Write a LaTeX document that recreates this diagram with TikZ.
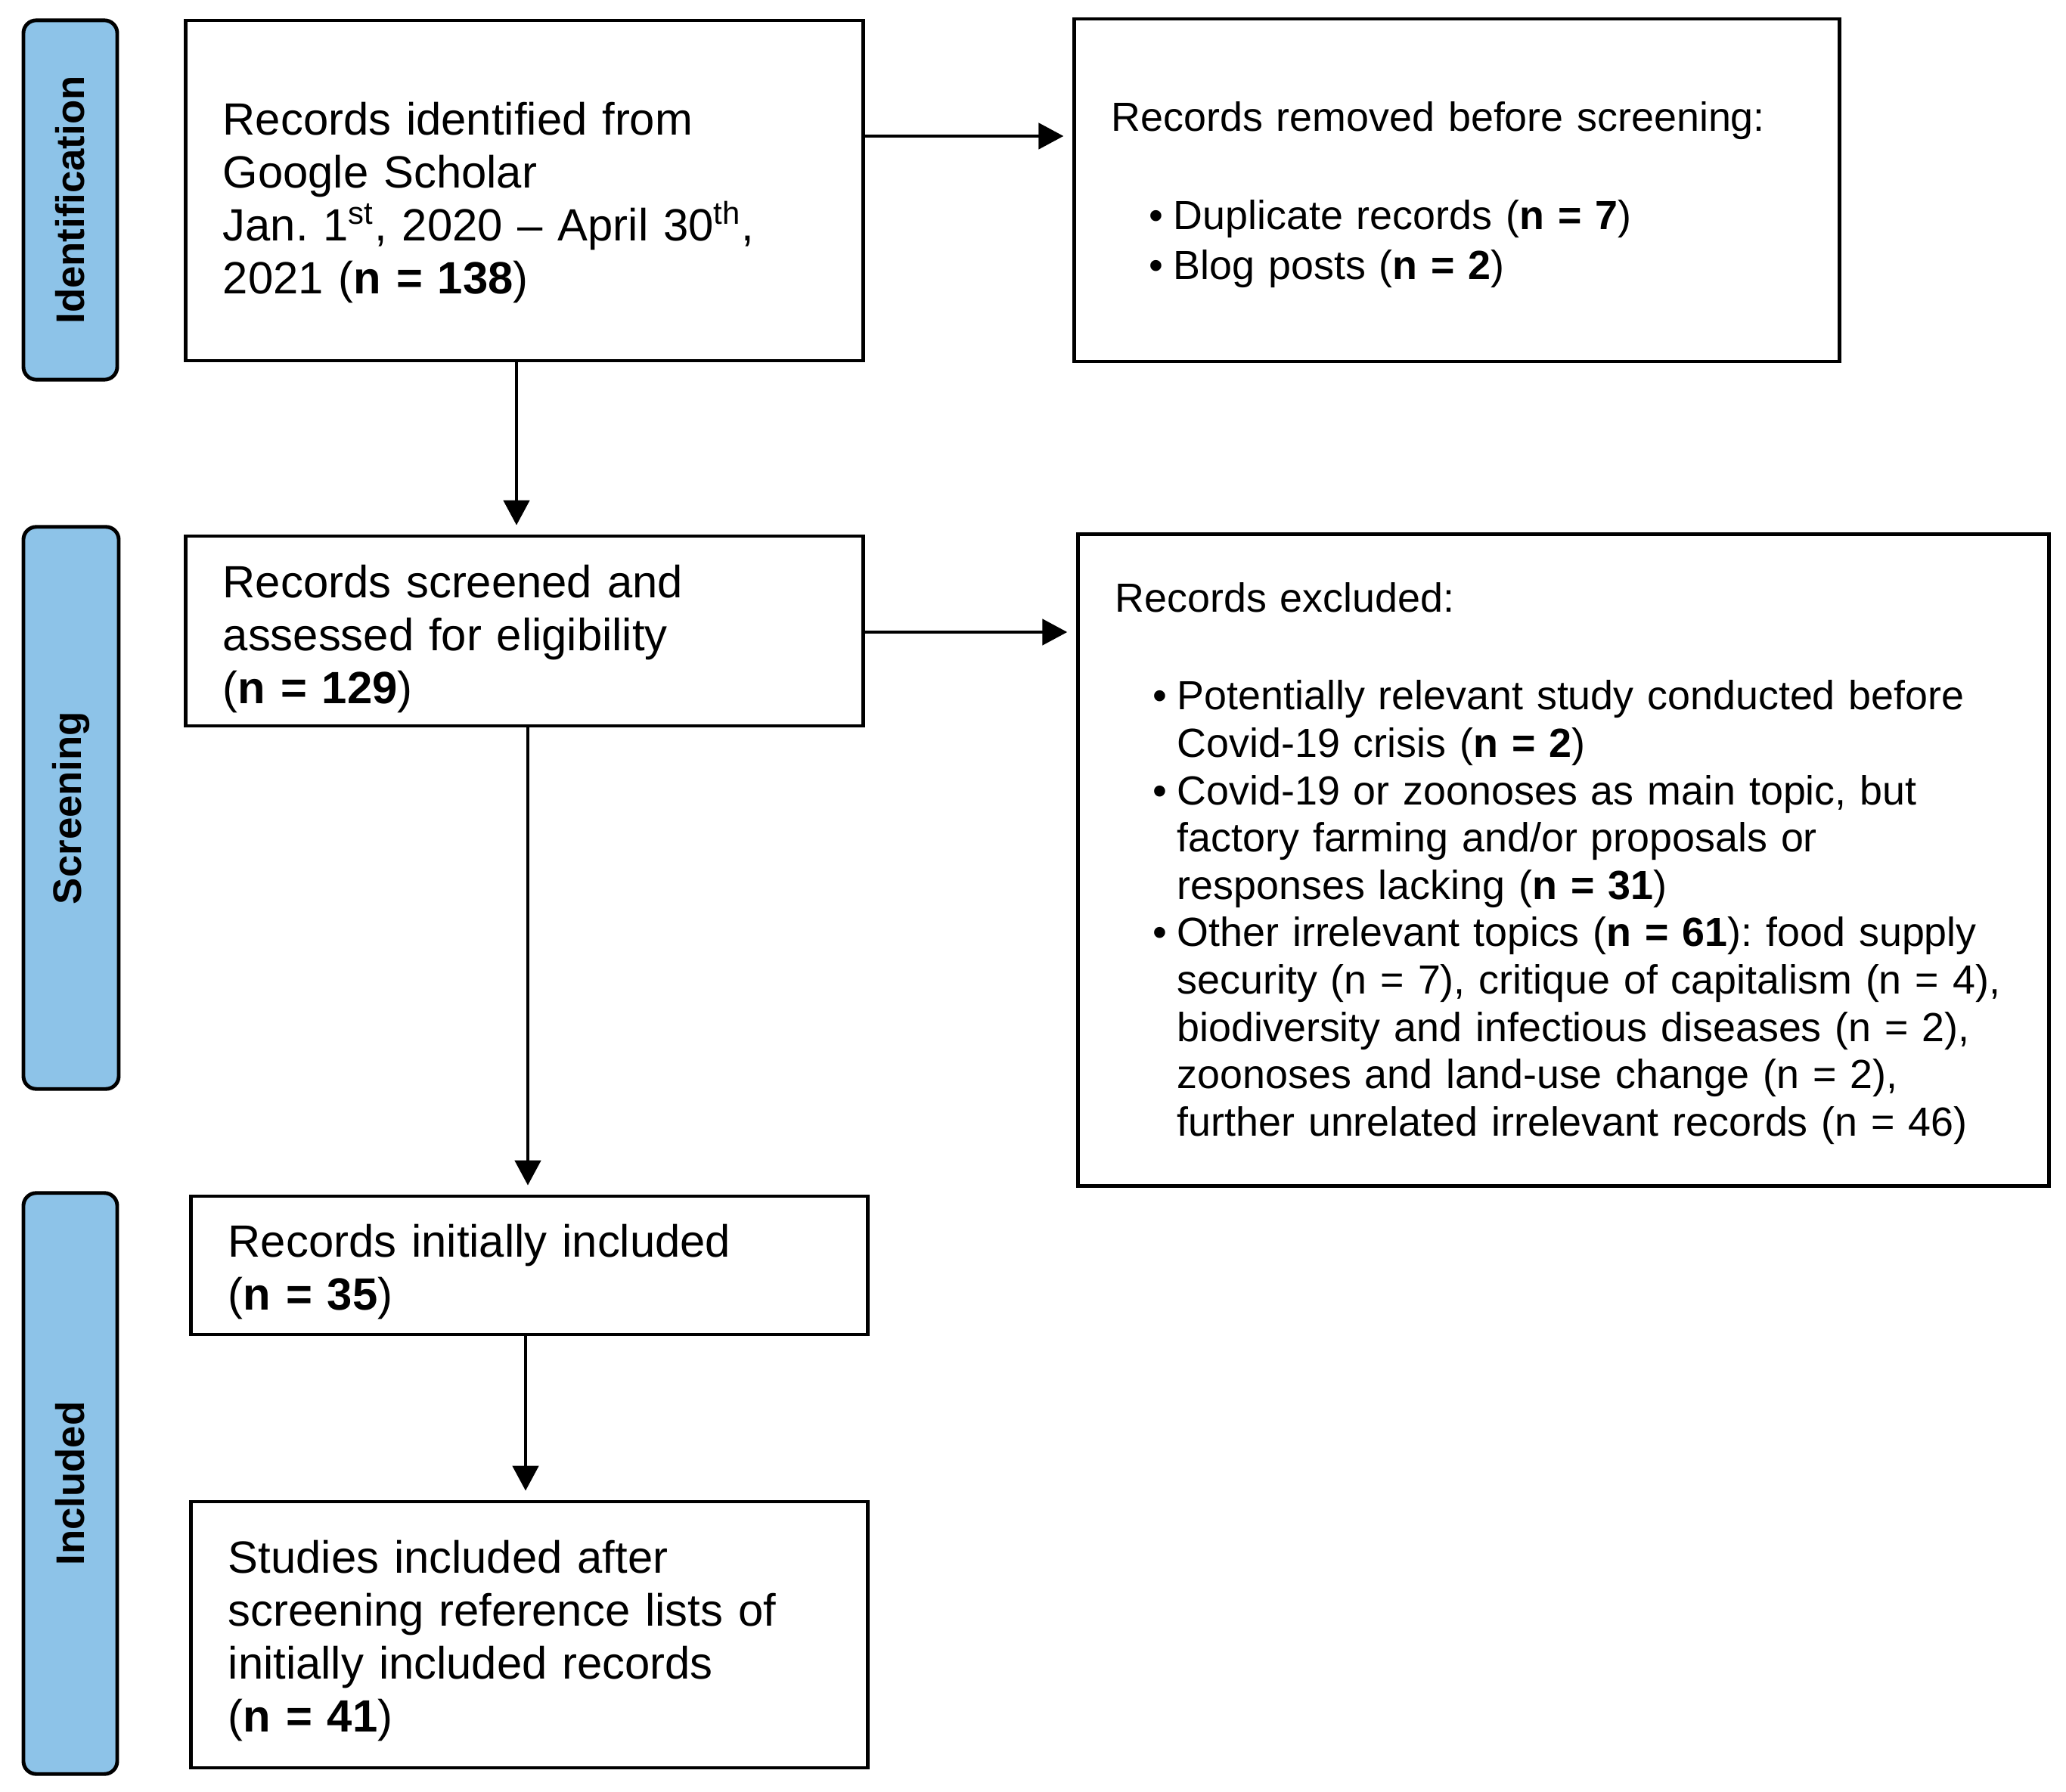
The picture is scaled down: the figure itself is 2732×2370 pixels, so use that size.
\documentclass[tikz,border=0pt]{standalone}
\usepackage{fontspec}
\setmainfont{Liberation Sans}
\usetikzlibrary{arrows.meta}
\definecolor{lanefill}{RGB}{141,195,232}
\newcommand{\myitem}{\hspace*{0.5cm}\makebox[0.32cm][l]{\textbullet}}
\newcommand{\mycont}{\hspace*{0.82cm}}
\frenchspacing
\begin{document}
\begin{tikzpicture}[x=0.01cm,y=-0.01cm,
  box/.style={draw=black,line width=1.3pt,rectangle,inner sep=0pt,anchor=center},
  txt/.style={inner sep=0pt,align=left,anchor=center},
  bigtxt/.style={txt,font=\fontsize{17pt}{19.9pt}\selectfont},
  smalltxt/.style={txt,font=\fontsize{15.3pt}{17.8pt}\selectfont},
  lane/.style={draw=black,line width=1.4pt,fill=lanefill,rounded corners=0.17cm,rotate=90,anchor=center,inner sep=0pt,font=\bfseries\fontsize{15pt}{18pt}\selectfont},
  arr/.style={draw=black,line width=1.4pt,-{Triangle[length=0.33cm,width=0.34cm]},shorten >=0.12cm}
]
\useasboundingbox (0,0) rectangle (2732,2370);

% lanes
\node[lane,minimum width=4.75cm,minimum height=1.24cm] (l1) at (93,264.5) {Identification};
\node[lane,minimum width=7.43cm,minimum height=1.26cm] (l2) at (94,1068.5) {Screening};
\node[lane,minimum width=7.68cm,minimum height=1.24cm] (l3) at (93,1962) {Included};

% boxes
\node[box,minimum width=8.95cm,minimum height=4.5cm] (b1) at (693.5,252) {};
\node[bigtxt,text width=7.97cm] (t1) at ([yshift=-0.16cm]b1.center)
 {Records identified from\\Google Scholar\\Jan. 1\textsuperscript{st}, 2020 – April 30\textsuperscript{th},\\2021 (\textbf{n = 138})};

\node[box,minimum width=10.11cm,minimum height=4.53cm] (b2) at (1926.5,251.5) {};
\node[smalltxt,text width=9.13cm,font=\fontsize{15.3pt}{18.7pt}\selectfont] (t2) at ([yshift=-0.06cm]b2.center)
 {Records removed before screening:\\[18.2pt]
 \myitem Duplicate records (\textbf{n = 7})\\
 \myitem Blog posts (\textbf{n = 2})};

\node[box,minimum width=8.95cm,minimum height=2.51cm] (b3) at (693.5,834.5) {};
\node[bigtxt,text width=7.97cm] (t3) at ([yshift=-0.11cm]b3.center)
 {Records screened and\\assessed for eligibility\\(\textbf{n = 129})};

\node[box,minimum width=12.83cm,minimum height=8.61cm] (b4) at (2067.5,1137.5) {};
\node[smalltxt,text width=11.85cm] (t4) at ([yshift=-0.045cm]b4.center)
 {Records excluded:\\[19pt]
 \myitem Potentially relevant study conducted before\\
 \mycont Covid-19 crisis (\textbf{n = 2})\\
 \myitem Covid-19 or zoonoses as main topic, but\\
 \mycont factory farming and/or proposals or\\
 \mycont responses lacking (\textbf{n = 31})\\
 \myitem Other irrelevant topics (\textbf{n = 61}): food supply\\
 \mycont security (n = 7), critique of capitalism (n = 4),\\
 \mycont biodiversity and infectious diseases (n = 2),\\
 \mycont zoonoses and land-use change (n = 2),\\
 \mycont further unrelated irrelevant records (n = 46)};

\node[box,minimum width=8.94cm,minimum height=1.83cm] (b5) at (700,1673.5) {};
\node[bigtxt,text width=7.96cm] (t5) at ([yshift=-0.09cm]b5.center)
 {Records initially included\\(\textbf{n = 35})};

\node[box,minimum width=8.94cm,minimum height=3.52cm] (b6) at (700,2162) {};
\node[bigtxt,text width=7.96cm] (t6) at ([yshift=-0.08cm]b6.center)
 {Studies included after\\screening reference lists of\\initially included records\\(\textbf{n = 41})};

% connectors
\draw[arr] (b1.east |- 0,180) -- (b2.west |- 0,180);
\draw[arr] (b1.south -| 683,0) -- (b3.north -| 683,0);
\draw[arr] (b3.east |- 0,836) -- (b4.west |- 0,836);
\draw[arr] (b3.south -| 698,0) -- (b5.north -| 698,0);
\draw[arr] (b5.south -| 695,0) -- (b6.north -| 695,0);
\end{tikzpicture}
\end{document}
